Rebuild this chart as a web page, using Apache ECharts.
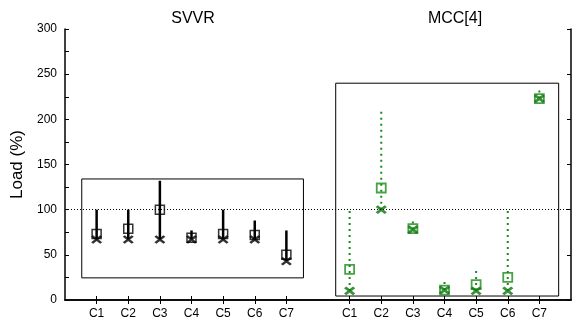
<!DOCTYPE html>
<html>
<head>
<meta charset="utf-8">
<script src="https://cdn.jsdelivr.net/npm/echarts@6/dist/echarts.min.js"></script>
<style>
  html, body { margin: 0; padding: 0; background: #fff; }
  #chart { width: 574px; height: 323px; }
</style>
</head>
<body>
<div id="chart"></div>
<script>
const categories = ["C1", "C2", "C3", "C4", "C5", "C6", "C7"];
const yTicks = [0, 50, 100, 150, 200, 250, 300];

// SVVR (black)
const svvrSquare = [73, 79, 100, 69, 73, 72, 50];
const svvrCross = [67, 67, 67, 67, 67, 67, 43];
const svvrLow = [67, 67, 67, 67, 67, 67, 43];
const svvrHigh = [100, 100, 132, 77, 100, 88, 77];

// MCC[4] (green)
const mccSquare = [34, 124, 79, 11, 17, 25, 223];
const mccCross = [10, 100, 78, 11, 10, 10, 223];
const mccLow = [10, 100, 78, 11, 10, 10, 223];
const mccHigh = [100, 210, 88, 20, 32, 100, 232];

// frames: [x0, x1, y0, y1]
const svvrFrame = [0.53, 7.54, 24.5, 134];
const mccFrame = [8.56, 15.61, 4.4, 240];

const GREEN = "#1a8c1a";
const GREEN_DARK = "#0a760a";
const FONT = "Liberation Sans";

// slot positions: SVVR at 1..7, MCC at 9..15
const svvrX = categories.map((c, i) => i + 1);
const mccX = categories.map((c, i) => i + 9);
const axisCats = [""].concat(categories, [""], categories, [""]);

const pts = (xs, ys) => xs.map((x, i) => [x, ys[i]]);
const bars = (xs, lo, hi) => xs.map((x, i) => [x, lo[i], hi[i]]);

const chart = echarts.init(document.getElementById("chart"));

function lineItem(style) {
  return function (params, api) {
    const a = api.coord([api.value(0), api.value(1)]);
    const b = api.coord([api.value(0), api.value(2)]);
    return {
      type: "line",
      shape: { x1: a[0], y1: a[1], x2: b[0], y2: b[1] },
      style: style
    };
  };
}

function frameItem(params, api) {
  const p0 = api.coord([api.value(0), api.value(3)]);
  const p1 = api.coord([api.value(1), api.value(2)]);
  return {
    type: "rect",
    shape: { x: p0[0], y: p0[1], width: p1[0] - p0[0], height: p1[1] - p0[1] },
    style: { fill: "none", stroke: "#000", lineWidth: 1 }
  };
}

const crossPath = "path://M0,0L10,10M10,0L0,10";

const tickShow = (idx, val) => val !== "";

chart.setOption({
  animation: false,
  backgroundColor: "#fff",
  textStyle: { fontFamily: FONT },
  grid: { left: 65, right: -2, top: 29, bottom: 23 },
  graphic: [
    { type: "text", x: 193, y: 11, style: { text: "SVVR", align: "center", font: "16px " + FONT, fill: "#000" } },
    { type: "text", x: 455, y: 11, style: { text: "MCC[4]", align: "center", font: "16px " + FONT, fill: "#000" } }
  ],
  xAxis: [
    {
      type: "category", position: "bottom", data: axisCats, boundaryGap: false,
      axisLine: { lineStyle: { color: "#000", width: 1.5 } },
      axisTick: { inside: true, length: 4, interval: tickShow, lineStyle: { color: "#000" } },
      axisLabel: { interval: 0, color: "#000", fontSize: 12, margin: 8 },
      splitLine: { show: false }
    },
    {
      type: "category", position: "top", data: axisCats, boundaryGap: false,
      axisLine: { lineStyle: { color: "#000", width: 1.5 } },
      axisTick: { inside: true, length: 4, interval: tickShow, lineStyle: { color: "#000" } },
      axisLabel: { show: false },
      splitLine: { show: false }
    },
    {
      type: "value", min: 0, max: 16, show: false
    }
  ],
  yAxis: [
    {
      type: "value", min: 0, max: 300, interval: 50, position: "left",
      name: "Load (%)", nameLocation: "middle", nameGap: 39, nameRotate: 90,
      nameTextStyle: { fontSize: 17, color: "#000", fontFamily: FONT },
      axisLine: { show: true, lineStyle: { color: "#000", width: 1.5 } },
      axisTick: { show: true, inside: true, length: 4, lineStyle: { color: "#000" } },
      minorTick: { show: true, splitNumber: 2, length: 4, lineStyle: { color: "#000" } },
      axisLabel: { color: "#000", fontSize: 12, margin: 8, formatter: v => yTicks.includes(v) ? String(v) : "" },
      splitLine: { show: false }
    },
    {
      type: "value", min: 0, max: 300, interval: 50, position: "right",
      axisLine: { show: true, lineStyle: { color: "#000", width: 1.5 } },
      axisTick: { show: true, inside: true, length: 4, lineStyle: { color: "#000" } },
      axisLabel: { show: false },
      splitLine: { show: false }
    }
  ],
  series: [
    {
      type: "custom", xAxisIndex: 2, yAxisIndex: 0, z: 1,
      renderItem: frameItem,
      data: [svvrFrame, mccFrame],
      markLine: {
        silent: true, symbol: "none", label: { show: false },
        lineStyle: { color: "#000", type: [1, 2], width: 1 },
        data: [{ yAxis: 100 }]
      }
    },
    {
      type: "custom", xAxisIndex: 2, yAxisIndex: 0, z: 2,
      renderItem: lineItem({ stroke: "#000", lineWidth: 2.5 }),
      data: bars(svvrX, svvrLow, svvrHigh)
    },
    {
      type: "custom", xAxisIndex: 2, yAxisIndex: 0, z: 2,
      renderItem: lineItem({ stroke: GREEN, lineWidth: 2, lineDash: [2, 4] }),
      data: bars(mccX, mccLow, mccHigh)
    },
    {
      type: "scatter", xAxisIndex: 2, yAxisIndex: 0, z: 3,
      symbol: "rect", symbolSize: 9,
      itemStyle: { color: "transparent", borderColor: "#000", borderWidth: 1.5 },
      data: pts(svvrX, svvrSquare)
    },
    {
      type: "scatter", xAxisIndex: 2, yAxisIndex: 0, z: 3,
      symbol: crossPath, symbolSize: [9, 7],
      itemStyle: { color: "transparent", borderColor: "#000", borderWidth: 2.5 },
      data: pts(svvrX, svvrCross)
    },
    {
      type: "scatter", xAxisIndex: 2, yAxisIndex: 0, z: 3,
      symbol: "rect", symbolSize: 9,
      itemStyle: { color: "transparent", borderColor: GREEN, borderWidth: 1.8 },
      data: pts(mccX, mccSquare)
    },
    {
      type: "scatter", xAxisIndex: 2, yAxisIndex: 0, z: 3,
      symbol: crossPath, symbolSize: [9, 7],
      itemStyle: { color: "transparent", borderColor: GREEN_DARK, borderWidth: 2.8 },
      data: pts(mccX, mccCross)
    }
  ]
});

window.onresize = function () {
  chart.resize();
};
</script>
</body>
</html>
